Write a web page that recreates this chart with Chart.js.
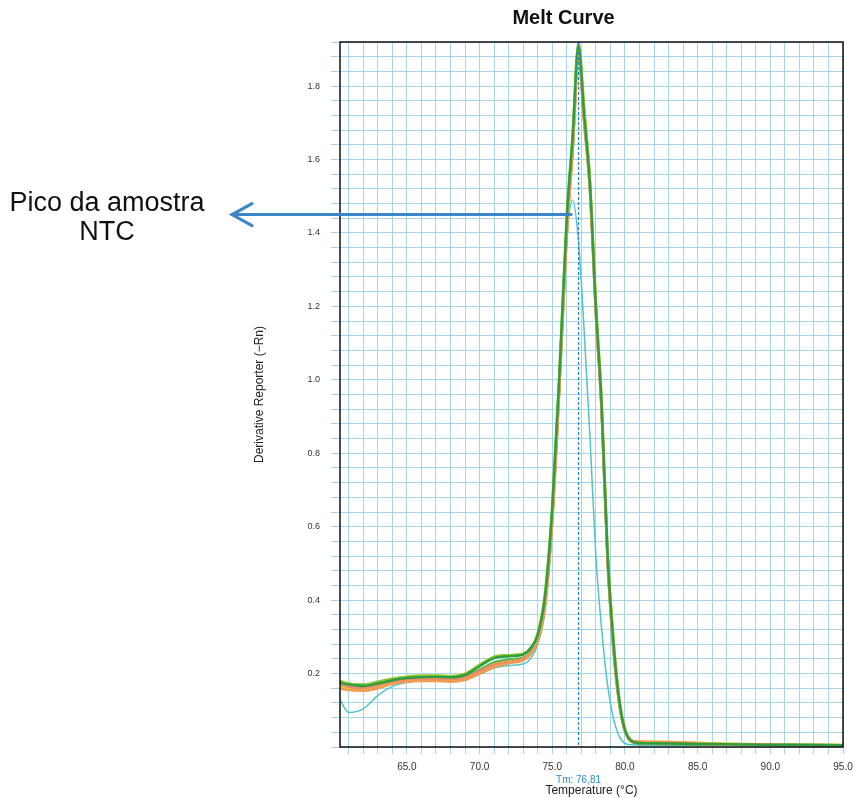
<!DOCTYPE html>
<html>
<head>
<meta charset="utf-8">
<title>Melt Curve</title>
<script src="https://cdn.jsdelivr.net/npm/chart.js@4.4.1/dist/chart.umd.min.js"></script>
<style>
  html, body { margin: 0; padding: 0; background: #fff; }
</style>
</head>
<body>
<canvas id="meltChart" width="855" height="798"></canvas>
<script>
// Temperaturas (°C) comuns a todas as curvas
const temperaturas = [60.4, 61, 62, 63, 64, 65, 66, 67, 68, 69, 70, 71, 72, 73, 73.5, 74, 74.5, 75, 75.5, 76,
                      76.4, 76.8, 77.2, 77.6, 78, 78.4, 78.8, 79.2, 79.6, 80, 80.5, 81, 82, 84, 86, 88, 90, 92, 95];

// Derivative Reporter (-Rn) de cada amostra
const amostra1 = [0.175, 0.170, 0.166, 0.173, 0.182, 0.188, 0.190, 0.191, 0.190, 0.196, 0.220, 0.242, 0.247, 0.252, 0.268, 0.305, 0.41, 0.65, 1.02, 1.44,
                  1.66, 1.91, 1.72, 1.53, 1.20, 0.93, 0.53, 0.29, 0.13, 0.047, 0.015, 0.011, 0.010, 0.009, 0.008, 0.007, 0.006, 0.006, 0.005];
const amostra2 = [0.168, 0.162, 0.158, 0.166, 0.177, 0.184, 0.187, 0.188, 0.186, 0.190, 0.210, 0.230, 0.238, 0.243, 0.258, 0.296, 0.39, 0.63, 1.00, 1.41,
                  1.63, 1.89, 1.70, 1.51, 1.18, 0.91, 0.51, 0.27, 0.12, 0.043, 0.013, 0.010, 0.009, 0.008, 0.007, 0.006, 0.006, 0.005, 0.004];
const amostra3 = [0.180, 0.173, 0.168, 0.176, 0.185, 0.192, 0.195, 0.195, 0.193, 0.200, 0.224, 0.246, 0.250, 0.254, 0.270, 0.310, 0.42, 0.66, 1.03, 1.45,
                  1.67, 1.92, 1.74, 1.54, 1.21, 0.94, 0.54, 0.30, 0.135, 0.050, 0.016, 0.012, 0.011, 0.010, 0.009, 0.008, 0.007, 0.006, 0.005];
const amostra4 = [0.165, 0.158, 0.155, 0.163, 0.174, 0.181, 0.184, 0.185, 0.183, 0.188, 0.205, 0.225, 0.233, 0.240, 0.255, 0.292, 0.385, 0.62, 0.99, 1.40,
                  1.63, 1.89, 1.73, 1.54, 1.21, 0.94, 0.54, 0.30, 0.135, 0.050, 0.018, 0.015, 0.014, 0.013, 0.010, 0.008, 0.007, 0.006, 0.006];
const amostra5 = [0.160, 0.155, 0.153, 0.160, 0.172, 0.178, 0.180, 0.180, 0.178, 0.183, 0.200, 0.218, 0.228, 0.236, 0.252, 0.290, 0.38, 0.61, 0.98, 1.39,
                  1.62, 1.88, 1.71, 1.52, 1.19, 0.92, 0.52, 0.28, 0.125, 0.047, 0.017, 0.015, 0.014, 0.013, 0.008, 0.006, 0.006, 0.005, 0.005];
const amostra6 = [0.170, 0.164, 0.160, 0.168, 0.178, 0.184, 0.186, 0.186, 0.184, 0.189, 0.207, 0.224, 0.232, 0.240, 0.256, 0.294, 0.39, 0.62, 0.99, 1.40,
                  1.62, 1.87, 1.70, 1.51, 1.18, 0.91, 0.51, 0.27, 0.12, 0.044, 0.014, 0.011, 0.010, 0.009, 0.008, 0.007, 0.006, 0.005, 0.005];
const amostra7 = [0.178, 0.172, 0.170, 0.178, 0.186, 0.190, 0.192, 0.192, 0.190, 0.197, 0.222, 0.244, 0.249, 0.253, 0.266, 0.302, 0.40, 0.64, 1.01, 1.43,
                  1.65, 1.90, 1.73, 1.53, 1.20, 0.92, 0.52, 0.28, 0.125, 0.046, 0.014, 0.010, 0.009, 0.008, 0.007, 0.006, 0.006, 0.005, 0.004];
// Controle negativo (NTC)
const ntc      = [0.128, 0.094, 0.104, 0.140, 0.165, 0.176, 0.180, 0.180, 0.178, 0.182, 0.198, 0.215, 0.222, 0.226, 0.240, 0.280, 0.37, 0.60, 0.97, 1.38,
                  1.49, 1.38, 1.13, 0.84, 0.52, 0.32, 0.17, 0.08, 0.03, 0.010, 0.006, 0.005, 0.005, 0.005, 0.005, 0.004, 0.004, 0.004, 0.004];

const rotulosX = [65, 70, 75, 80, 85, 90, 95];
const rotulosY = [0.2, 0.4, 0.6, 0.8, 1.0, 1.2, 1.4, 1.6, 1.8];

const tm = 76.81;
const picoNtc = { temp: 76.3, valor: 1.45 }; // onde a seta começa

const corGrade = '#a9d3e7';

const series = [
    { dados: amostra1, cor: '#2f9e3f' },
    { dados: amostra5, cor: '#f29b52' },
    { dados: amostra6, cor: '#ee8a6e' },
    { dados: amostra4, cor: '#e3d43a' },
    { dados: amostra3, cor: '#9cc92e' },
    { dados: amostra2, cor: '#45b649' },
    { dados: amostra7, cor: '#62bd45' },
    { dados: ntc, cor: '#4fc4c9', largura: 1.5 }
];

Chart.defaults.font.family = '"Liberation Sans", Arial, sans-serif';

// Linha Tm, moldura, título e anotação da seta
const anotacoes = {
    id: 'anotacoes',
    afterDatasetsDraw(chart) {
        const { ctx, chartArea: a, scales: { x, y } } = chart;
        ctx.save();

        const xt = x.getPixelForValue(tm);
        ctx.strokeStyle = '#1e86d6';
        ctx.lineWidth = 1.2;
        ctx.setLineDash([3, 2]);
        ctx.beginPath();
        ctx.moveTo(xt, a.top);
        ctx.lineTo(xt, a.bottom);
        ctx.stroke();
        ctx.setLineDash([]);

        ctx.strokeStyle = '#111';
        ctx.lineWidth = 1.5;
        ctx.strokeRect(a.left, a.top, a.right - a.left, a.bottom - a.top);

        ctx.textAlign = 'center';
        ctx.textBaseline = 'middle';
        ctx.fillStyle = '#2b8fd8';
        ctx.font = '10px "Liberation Sans", Arial';
        ctx.fillText('Tm: ' + tm.toFixed(2).replace('.', ','), xt, a.bottom + 33);

        ctx.fillStyle = '#111';
        ctx.font = 'bold 20px "Liberation Sans", Arial';
        ctx.fillText('Melt Curve', (a.left + a.right) / 2 - 28, 18);

        // seta apontando para o texto
        const ax = x.getPixelForValue(picoNtc.temp);
        const ay = y.getPixelForValue(picoNtc.valor);
        const ponta = a.left - 108;
        ctx.strokeStyle = '#3b86c9';
        ctx.lineWidth = 3;
        ctx.lineCap = 'round';
        ctx.beginPath();
        ctx.moveTo(ax, ay);
        ctx.lineTo(ponta, ay);
        ctx.stroke();
        ctx.beginPath();
        ctx.moveTo(ponta + 20, ay - 11);
        ctx.lineTo(ponta, ay);
        ctx.lineTo(ponta + 20, ay + 11);
        ctx.stroke();

        ctx.fillStyle = '#111';
        ctx.font = '27px "Liberation Sans", Arial';
        ctx.textBaseline = 'alphabetic';
        ctx.fillText('Pico da amostra', ponta - 125, ay - 4);
        ctx.fillText('NTC', ponta - 125, ay + 25);

        ctx.restore();
    }
};

new Chart(document.getElementById('meltChart'), {
    type: 'line',
    data: {
        datasets: series.map(s => ({
            data: temperaturas.map((t, i) => ({ x: t, y: s.dados[i] })),
            borderColor: s.cor,
            borderWidth: s.largura || 2.5,
            pointRadius: 0,
            fill: false,
            cubicInterpolationMode: 'monotone'
        }))
    },
    options: {
        responsive: false,
        animation: false,
        devicePixelRatio: 1,
        layout: { padding: { left: 240, right: 12, top: 42, bottom: 0 } },
        plugins: {
            legend: { display: false },
            tooltip: { enabled: false },
            title: { display: false }
        },
        scales: {
            x: {
                type: 'linear',
                min: 60.4,
                max: 95,
                afterFit: s => { s.height = 51; s.paddingRight = 0; s.paddingLeft = 0; },
                border: { display: false },
                grid: { color: corGrade, lineWidth: 1, tickLength: 7 },
                ticks: {
                    stepSize: 1,
                    includeBounds: false,
                    autoSkip: false,
                    maxRotation: 0,
                    padding: 7,
                    color: '#333',
                    font: { size: 10 },
                    callback: v => rotulosX.includes(v) ? v.toFixed(1) : ''
                },
                title: { display: true, text: 'Temperature (°C)', color: '#222', font: { size: 12 }, padding: 0 }
            },
            y: {
                min: 0,
                max: 1.92,
                afterFit: s => { s.width = 100; },
                border: { display: false },
                grid: { color: corGrade, lineWidth: 1, tickLength: 9 },
                ticks: {
                    stepSize: 0.04,
                    maxTicksLimit: 100,
                    autoSkip: false,
                    padding: 11,
                    color: '#333',
                    font: { size: 9 },
                    callback: v => rotulosY.some(r => Math.abs(r - v) < 1e-6) ? v.toFixed(1) : ''
                },
                title: { display: true, text: 'Derivative Reporter (−Rn)', color: '#222', font: { size: 12 }, padding: { top: 12, bottom: 0 } }
            }
        }
    },
    plugins: [anotacoes]
});
</script>
</body>
</html>
